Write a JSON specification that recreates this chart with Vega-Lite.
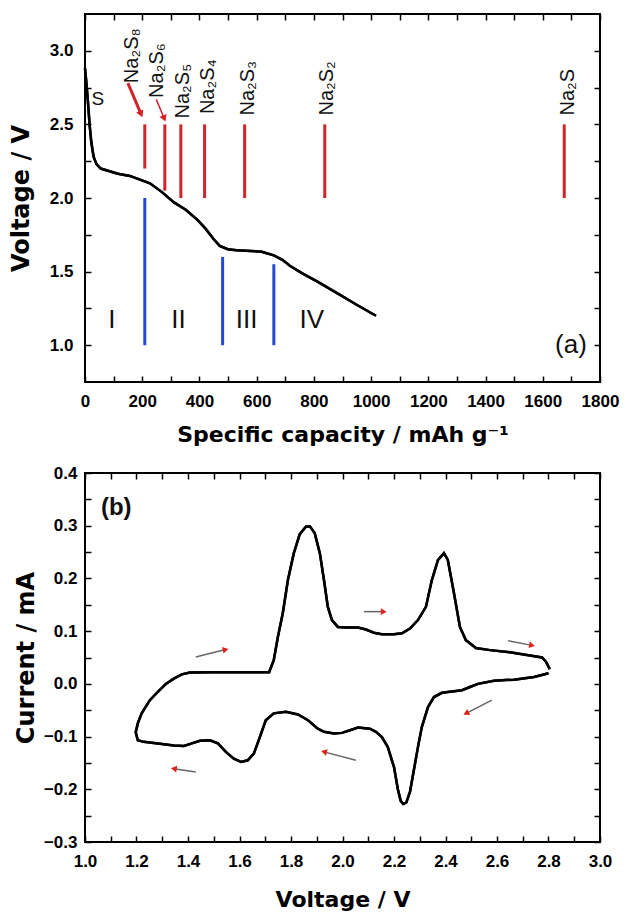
{
  "$schema": "https://vega.github.io/schema/vega-lite/v6.json",
  "padding": {"left": 8, "top": 12, "right": 5, "bottom": 5},
  "background": "white",
  "spacing": 91,
  "bounds": "flush",
  "datasets": {
    "discharge": [
      {"capacity": 0, "voltage": 2.88}, {"capacity": 4, "voltage": 2.8}, {"capacity": 10, "voltage": 2.66},
      {"capacity": 16, "voltage": 2.5}, {"capacity": 22, "voltage": 2.38}, {"capacity": 30, "voltage": 2.28},
      {"capacity": 40, "voltage": 2.23}, {"capacity": 55, "voltage": 2.2}, {"capacity": 80, "voltage": 2.185},
      {"capacity": 115, "voltage": 2.165}, {"capacity": 157, "voltage": 2.15}, {"capacity": 185, "voltage": 2.13},
      {"capacity": 227, "voltage": 2.1}, {"capacity": 269, "voltage": 2.04}, {"capacity": 311, "voltage": 1.97},
      {"capacity": 352, "voltage": 1.92}, {"capacity": 394, "voltage": 1.85}, {"capacity": 422, "voltage": 1.79},
      {"capacity": 450, "voltage": 1.72}, {"capacity": 471, "voltage": 1.675}, {"capacity": 499, "voltage": 1.652},
      {"capacity": 530, "voltage": 1.645}, {"capacity": 562, "voltage": 1.642}, {"capacity": 618, "voltage": 1.635},
      {"capacity": 660, "voltage": 1.61}, {"capacity": 690, "voltage": 1.58}, {"capacity": 716, "voltage": 1.54},
      {"capacity": 758, "voltage": 1.49}, {"capacity": 814, "voltage": 1.43}, {"capacity": 884, "voltage": 1.35},
      {"capacity": 954, "voltage": 1.27}, {"capacity": 1017, "voltage": 1.2}
    ],
    "markers": [
      {"kind": "compound", "capacity": 209, "low": 2.2, "high": 2.5},
      {"kind": "compound", "capacity": 279, "low": 2.05, "high": 2.5},
      {"kind": "compound", "capacity": 335, "low": 2.0, "high": 2.5},
      {"kind": "compound", "capacity": 418, "low": 2.0, "high": 2.5},
      {"kind": "compound", "capacity": 558, "low": 2.0, "high": 2.5},
      {"kind": "compound", "capacity": 838, "low": 2.0, "high": 2.5},
      {"kind": "compound", "capacity": 1675, "low": 2.0, "high": 2.5},
      {"kind": "stage", "capacity": 209, "low": 1.0, "high": 2.0},
      {"kind": "stage", "capacity": 481, "low": 1.0, "high": 1.6},
      {"kind": "stage", "capacity": 660, "low": 1.0, "high": 1.55}
    ],
    "species": [
      {"label": "Na₂S₈", "capacity": 164, "voltage": 2.78},
      {"label": "Na₂S₆", "capacity": 253, "voltage": 2.68},
      {"label": "Na₂S₅", "capacity": 341, "voltage": 2.54},
      {"label": "Na₂S₄", "capacity": 429, "voltage": 2.57},
      {"label": "Na₂S₃", "capacity": 569, "voltage": 2.56},
      {"label": "Na₂S₂", "capacity": 845, "voltage": 2.56},
      {"label": "Na₂S", "capacity": 1688, "voltage": 2.56}
    ],
    "stages": [
      {"label": "I", "capacity": 94, "voltage": 1.17},
      {"label": "II", "capacity": 327, "voltage": 1.17},
      {"label": "III", "capacity": 565, "voltage": 1.17},
      {"label": "IV", "capacity": 793, "voltage": 1.17}
    ],
    "topArrows": [
      {"id": "a1", "c1": 150, "v1": 2.78, "c2": 196, "v2": 2.57, "angle": 157},
      {"id": "a2", "c1": 249, "v1": 2.67, "c2": 277, "v2": 2.54, "angle": 158}
    ],
    "cv": [
      {"idx": 1, "voltage": 2.8, "current": 0.02}, {"idx": 2, "voltage": 2.744, "current": 0.013},
      {"idx": 3, "voltage": 2.666, "current": 0.008}, {"idx": 4, "voltage": 2.588, "current": 0.006},
      {"idx": 5, "voltage": 2.526, "current": 0.0}, {"idx": 6, "voltage": 2.495, "current": -0.006},
      {"idx": 7, "voltage": 2.464, "current": -0.012}, {"idx": 8, "voltage": 2.417, "current": -0.015},
      {"idx": 9, "voltage": 2.386, "current": -0.017}, {"idx": 10, "voltage": 2.355, "current": -0.025},
      {"idx": 11, "voltage": 2.332, "current": -0.044}, {"idx": 12, "voltage": 2.308, "current": -0.082},
      {"idx": 13, "voltage": 2.293, "current": -0.12}, {"idx": 14, "voltage": 2.277, "current": -0.164},
      {"idx": 15, "voltage": 2.262, "current": -0.205}, {"idx": 16, "voltage": 2.248, "current": -0.225},
      {"idx": 17, "voltage": 2.236, "current": -0.228}, {"idx": 18, "voltage": 2.226, "current": -0.222},
      {"idx": 19, "voltage": 2.215, "current": -0.2}, {"idx": 20, "voltage": 2.2, "current": -0.158},
      {"idx": 21, "voltage": 2.176, "current": -0.12}, {"idx": 22, "voltage": 2.153, "current": -0.101},
      {"idx": 23, "voltage": 2.13, "current": -0.091}, {"idx": 24, "voltage": 2.106, "current": -0.085},
      {"idx": 25, "voltage": 2.06, "current": -0.083}, {"idx": 26, "voltage": 2.029, "current": -0.088},
      {"idx": 27, "voltage": 1.998, "current": -0.093}, {"idx": 28, "voltage": 1.967, "current": -0.094},
      {"idx": 29, "voltage": 1.928, "current": -0.091}, {"idx": 30, "voltage": 1.904, "current": -0.085},
      {"idx": 31, "voltage": 1.866, "current": -0.069}, {"idx": 32, "voltage": 1.827, "current": -0.058},
      {"idx": 33, "voltage": 1.78, "current": -0.053}, {"idx": 34, "voltage": 1.733, "current": -0.056},
      {"idx": 35, "voltage": 1.702, "current": -0.069}, {"idx": 36, "voltage": 1.679, "current": -0.101},
      {"idx": 37, "voltage": 1.656, "current": -0.132}, {"idx": 38, "voltage": 1.632, "current": -0.145},
      {"idx": 39, "voltage": 1.606, "current": -0.148}, {"idx": 40, "voltage": 1.578, "current": -0.142},
      {"idx": 41, "voltage": 1.547, "current": -0.129}, {"idx": 42, "voltage": 1.516, "current": -0.113},
      {"idx": 43, "voltage": 1.485, "current": -0.107}, {"idx": 44, "voltage": 1.446, "current": -0.108},
      {"idx": 45, "voltage": 1.415, "current": -0.113}, {"idx": 46, "voltage": 1.384, "current": -0.118},
      {"idx": 47, "voltage": 1.345, "current": -0.117}, {"idx": 48, "voltage": 1.283, "current": -0.113},
      {"idx": 49, "voltage": 1.228, "current": -0.11}, {"idx": 50, "voltage": 1.205, "current": -0.107},
      {"idx": 51, "voltage": 1.197, "current": -0.092}, {"idx": 52, "voltage": 1.205, "current": -0.075},
      {"idx": 53, "voltage": 1.22, "current": -0.056}, {"idx": 54, "voltage": 1.252, "current": -0.031},
      {"idx": 55, "voltage": 1.283, "current": -0.015}, {"idx": 56, "voltage": 1.314, "current": 0.0},
      {"idx": 57, "voltage": 1.345, "current": 0.01}, {"idx": 58, "voltage": 1.376, "current": 0.018},
      {"idx": 59, "voltage": 1.407, "current": 0.0215}, {"idx": 60, "voltage": 1.5, "current": 0.022},
      {"idx": 61, "voltage": 1.6, "current": 0.022}, {"idx": 62, "voltage": 1.715, "current": 0.022},
      {"idx": 63, "voltage": 1.733, "current": 0.045}, {"idx": 64, "voltage": 1.749, "current": 0.089},
      {"idx": 65, "voltage": 1.768, "current": 0.134}, {"idx": 66, "voltage": 1.788, "current": 0.197},
      {"idx": 67, "voltage": 1.811, "current": 0.248}, {"idx": 68, "voltage": 1.834, "current": 0.284},
      {"idx": 69, "voltage": 1.858, "current": 0.298}, {"idx": 70, "voltage": 1.873, "current": 0.299},
      {"idx": 71, "voltage": 1.892, "current": 0.286}, {"idx": 72, "voltage": 1.912, "current": 0.248},
      {"idx": 73, "voltage": 1.928, "current": 0.197}, {"idx": 74, "voltage": 1.943, "current": 0.146},
      {"idx": 75, "voltage": 1.959, "current": 0.121}, {"idx": 76, "voltage": 1.982, "current": 0.108},
      {"idx": 77, "voltage": 2.013, "current": 0.107}, {"idx": 78, "voltage": 2.06, "current": 0.107},
      {"idx": 79, "voltage": 2.091, "current": 0.103}, {"idx": 80, "voltage": 2.122, "current": 0.097},
      {"idx": 81, "voltage": 2.153, "current": 0.094}, {"idx": 82, "voltage": 2.2, "current": 0.094},
      {"idx": 83, "voltage": 2.231, "current": 0.096}, {"idx": 84, "voltage": 2.262, "current": 0.105},
      {"idx": 85, "voltage": 2.293, "current": 0.121}, {"idx": 86, "voltage": 2.324, "current": 0.146},
      {"idx": 87, "voltage": 2.347, "current": 0.197}, {"idx": 88, "voltage": 2.371, "current": 0.235},
      {"idx": 89, "voltage": 2.394, "current": 0.248}, {"idx": 90, "voltage": 2.409, "current": 0.235},
      {"idx": 91, "voltage": 2.433, "current": 0.172}, {"idx": 92, "voltage": 2.456, "current": 0.108},
      {"idx": 93, "voltage": 2.479, "current": 0.083}, {"idx": 94, "voltage": 2.518, "current": 0.068},
      {"idx": 95, "voltage": 2.573, "current": 0.064}, {"idx": 96, "voltage": 2.65, "current": 0.06},
      {"idx": 97, "voltage": 2.728, "current": 0.054}, {"idx": 98, "voltage": 2.775, "current": 0.05},
      {"idx": 99, "voltage": 2.79, "current": 0.042}, {"idx": 100, "voltage": 2.805, "current": 0.028}
    ],
    "cvArrows": [
      {"v1": 1.43, "i1": 0.051, "v2": 1.546, "i2": 0.065, "angle": 76},
      {"v1": 2.083, "i1": 0.137, "v2": 2.16, "i2": 0.137, "angle": 90},
      {"v1": 2.643, "i1": 0.082, "v2": 2.736, "i2": 0.073, "angle": 101},
      {"v1": 2.58, "i1": -0.031, "v2": 2.48, "i2": -0.056, "angle": 243},
      {"v1": 2.052, "i1": -0.145, "v2": 1.928, "i2": -0.129, "angle": 285},
      {"v1": 1.43, "i1": -0.167, "v2": 1.345, "i2": -0.161, "angle": 278}
    ]
  },
  "vconcat": [
    {
      "width": 515,
      "height": 368,
      "layer": [
        {
          "data": {"name": "markers"},
          "mark": {"type": "rule", "strokeWidth": 3},
          "encoding": {
            "x": {"field": "capacity", "type": "quantitative", "scale": {"domain": [0, 1800], "nice": false}, "axis": null},
            "y": {"field": "low", "type": "quantitative", "scale": {"domain": [0.75, 3.25], "nice": false}, "axis": null},
            "y2": {"field": "high"},
            "color": {"field": "kind", "type": "nominal", "scale": {"domain": ["compound", "stage"], "range": ["#d3222a", "#2448d6"]}, "legend": null}
          }
        },
        {
          "data": {"name": "discharge"},
          "mark": {"type": "line", "color": "black", "strokeWidth": 2.5},
          "encoding": {
            "x": {"field": "capacity", "type": "quantitative", "scale": {"domain": [0, 1800], "nice": false},
              "axis": {"orient": "bottom", "title": "Specific capacity / mAh g⁻¹", "values": [0,100,200,300,400,500,600,700,800,900,1000,1100,1200,1300,1400,1500,1600,1700,1800],
                "labelExpr": "datum.value % 200 === 0 ? format(datum.value, 'd') : ''", "labelPadding": 17, "titlePadding": 15}},
            "y": {"field": "voltage", "type": "quantitative", "scale": {"domain": [0.75, 3.25], "nice": false},
              "axis": {"orient": "left", "title": "Voltage / V", "titleFontSize": 24, "values": [1.0,1.25,1.5,1.75,2.0,2.25,2.5,2.75,3.0],
                "labelExpr": "round(datum.value * 100) % 50 === 0 ? format(datum.value, '.1f') : ''", "labelPadding": 18, "titlePadding": 16}}
          }
        },
        {
          "data": {"name": "discharge"},
          "mark": {"type": "line", "color": "black", "strokeWidth": 2.5},
          "encoding": {
            "x": {"field": "capacity", "type": "quantitative",
              "axis": {"orient": "top", "title": null, "labels": false, "values": [0,100,200,300,400,500,600,700,800,900,1000,1100,1200,1300,1400,1500,1600,1700,1800]}},
            "y": {"field": "voltage", "type": "quantitative",
              "axis": {"orient": "right", "title": null, "labels": false, "values": [1.0,1.25,1.5,1.75,2.0,2.25,2.5,2.75,3.0]}}
          }
        },
        {
          "data": {"name": "species"},
          "mark": {"type": "text", "angle": 270, "align": "left", "baseline": "middle", "font": "Liberation Sans", "fontSize": 20, "color": "#111"},
          "encoding": {
            "x": {"field": "capacity", "type": "quantitative", "axis": null},
            "y": {"field": "voltage", "type": "quantitative", "axis": null},
            "text": {"field": "label"}
          }
        },
        {
          "data": {"name": "stages"},
          "mark": {"type": "text", "align": "center", "baseline": "middle", "font": "Liberation Sans", "fontSize": 26, "color": "#111"},
          "encoding": {
            "x": {"field": "capacity", "type": "quantitative", "axis": null},
            "y": {"field": "voltage", "type": "quantitative", "axis": null},
            "text": {"field": "label"}
          }
        },
        {
          "data": {"values": [{"label": "(a)", "capacity": 1754, "voltage": 1.0}]},
          "mark": {"type": "text", "align": "right", "baseline": "middle", "font": "Liberation Sans", "fontSize": 26, "color": "#111"},
          "encoding": {
            "x": {"field": "capacity", "type": "quantitative", "axis": null},
            "y": {"field": "voltage", "type": "quantitative", "axis": null},
            "text": {"field": "label"}
          }
        },
        {
          "data": {"values": [{"label": "S", "capacity": 45, "voltage": 2.67}]},
          "mark": {"type": "text", "align": "center", "baseline": "middle", "font": "Liberation Sans", "fontSize": 19, "color": "#111"},
          "encoding": {
            "x": {"field": "capacity", "type": "quantitative", "axis": null},
            "y": {"field": "voltage", "type": "quantitative", "axis": null},
            "text": {"field": "label"}
          }
        },
        {
          "data": {"name": "topArrows"},
          "transform": [{"filter": "datum.id === 'a1'"}],
          "mark": {"type": "rule", "color": "#d3222a", "strokeWidth": 3},
          "encoding": {
            "x": {"field": "c1", "type": "quantitative", "axis": null},
            "y": {"field": "v1", "type": "quantitative", "axis": null},
            "x2": {"field": "c2"},
            "y2": {"field": "v2"}
          }
        },
        {
          "data": {"name": "topArrows"},
          "transform": [{"filter": "datum.id === 'a2'"}],
          "mark": {"type": "rule", "color": "#d3222a", "strokeWidth": 1.5},
          "encoding": {
            "x": {"field": "c1", "type": "quantitative", "axis": null},
            "y": {"field": "v1", "type": "quantitative", "axis": null},
            "x2": {"field": "c2"},
            "y2": {"field": "v2"}
          }
        },
        {
          "data": {"name": "topArrows"},
          "mark": {"type": "point", "shape": "triangle-up", "filled": true, "color": "#d3222a", "size": 60, "opacity": 1},
          "encoding": {
            "x": {"field": "c2", "type": "quantitative", "axis": null},
            "y": {"field": "v2", "type": "quantitative", "axis": null},
            "angle": {"field": "angle", "type": "quantitative", "scale": null}
          }
        }
      ]
    },
    {
      "width": 515,
      "height": 369,
      "layer": [
        {
          "data": {"name": "cv"},
          "mark": {"type": "line", "color": "black", "strokeWidth": 2.5},
          "encoding": {
            "x": {"field": "voltage", "type": "quantitative", "scale": {"domain": [1.0, 3.0], "nice": false},
              "axis": {"orient": "bottom", "title": "Voltage / V", "values": [1.0,1.1,1.2,1.3,1.4,1.5,1.6,1.7,1.8,1.9,2.0,2.1,2.2,2.3,2.4,2.5,2.6,2.7,2.8,2.9,3.0],
                "labelExpr": "round(datum.value * 10) % 2 === 0 ? format(datum.value, '.1f') : ''", "labelPadding": 17, "titlePadding": 20}},
            "y": {"field": "current", "type": "quantitative", "scale": {"domain": [-0.3, 0.4], "nice": false},
              "axis": {"orient": "left", "title": "Current / mA", "titleFontSize": 24, "values": [-0.3,-0.25,-0.2,-0.15,-0.1,-0.05,0.0,0.05,0.1,0.15,0.2,0.25,0.3,0.35,0.4],
                "labelExpr": "abs(round(datum.value * 100)) % 10 === 0 ? format(datum.value, '.1f') : ''", "labelPadding": 14, "titlePadding": 5}},
            "order": {"field": "idx", "type": "quantitative"}
          }
        },
        {
          "data": {"name": "cv"},
          "mark": {"type": "line", "color": "black", "strokeWidth": 2.5},
          "encoding": {
            "x": {"field": "voltage", "type": "quantitative",
              "axis": {"orient": "top", "title": null, "labels": false, "values": [1.0,1.1,1.2,1.3,1.4,1.5,1.6,1.7,1.8,1.9,2.0,2.1,2.2,2.3,2.4,2.5,2.6,2.7,2.8,2.9,3.0]}},
            "y": {"field": "current", "type": "quantitative",
              "axis": {"orient": "right", "title": null, "labels": false, "values": [-0.3,-0.25,-0.2,-0.15,-0.1,-0.05,0.0,0.05,0.1,0.15,0.2,0.25,0.3,0.35,0.4]}},
            "order": {"field": "idx", "type": "quantitative"}
          }
        },
        {
          "data": {"name": "cvArrows"},
          "mark": {"type": "rule", "color": "#666", "strokeWidth": 1.5},
          "encoding": {
            "x": {"field": "v1", "type": "quantitative", "axis": null},
            "y": {"field": "i1", "type": "quantitative", "axis": null},
            "x2": {"field": "v2"},
            "y2": {"field": "i2"}
          }
        },
        {
          "data": {"name": "cvArrows"},
          "mark": {"type": "point", "shape": "triangle-up", "filled": true, "color": "#e0221c", "size": 45, "opacity": 1},
          "encoding": {
            "x": {"field": "v2", "type": "quantitative", "axis": null},
            "y": {"field": "i2", "type": "quantitative", "axis": null},
            "angle": {"field": "angle", "type": "quantitative", "scale": null}
          }
        },
        {
          "data": {"values": [{"label": "(b)", "voltage": 1.062, "current": 0.334}]},
          "mark": {"type": "text", "align": "left", "baseline": "middle", "font": "Liberation Sans", "fontWeight": "bold", "fontSize": 24, "color": "#111"},
          "encoding": {
            "x": {"field": "voltage", "type": "quantitative", "axis": null},
            "y": {"field": "current", "type": "quantitative", "axis": null},
            "text": {"field": "label"}
          }
        }
      ]
    }
  ],
  "config": {
    "view": {"stroke": "black", "strokeWidth": 2},
    "axis": {
      "domain": false, "grid": false, "tickColor": "black", "tickWidth": 1.5, "tickSize": -6,
      "labelFont": "Liberation Sans", "labelFontSize": 17, "labelFontWeight": "bold", "labelColor": "black",
      "labelOverlap": false, "labelFlush": false, "labelBound": false,
      "titleFont": "DejaVu Sans", "titleFontSize": 22, "titleFontWeight": "bold", "titleColor": "black"
    }
  }
}
